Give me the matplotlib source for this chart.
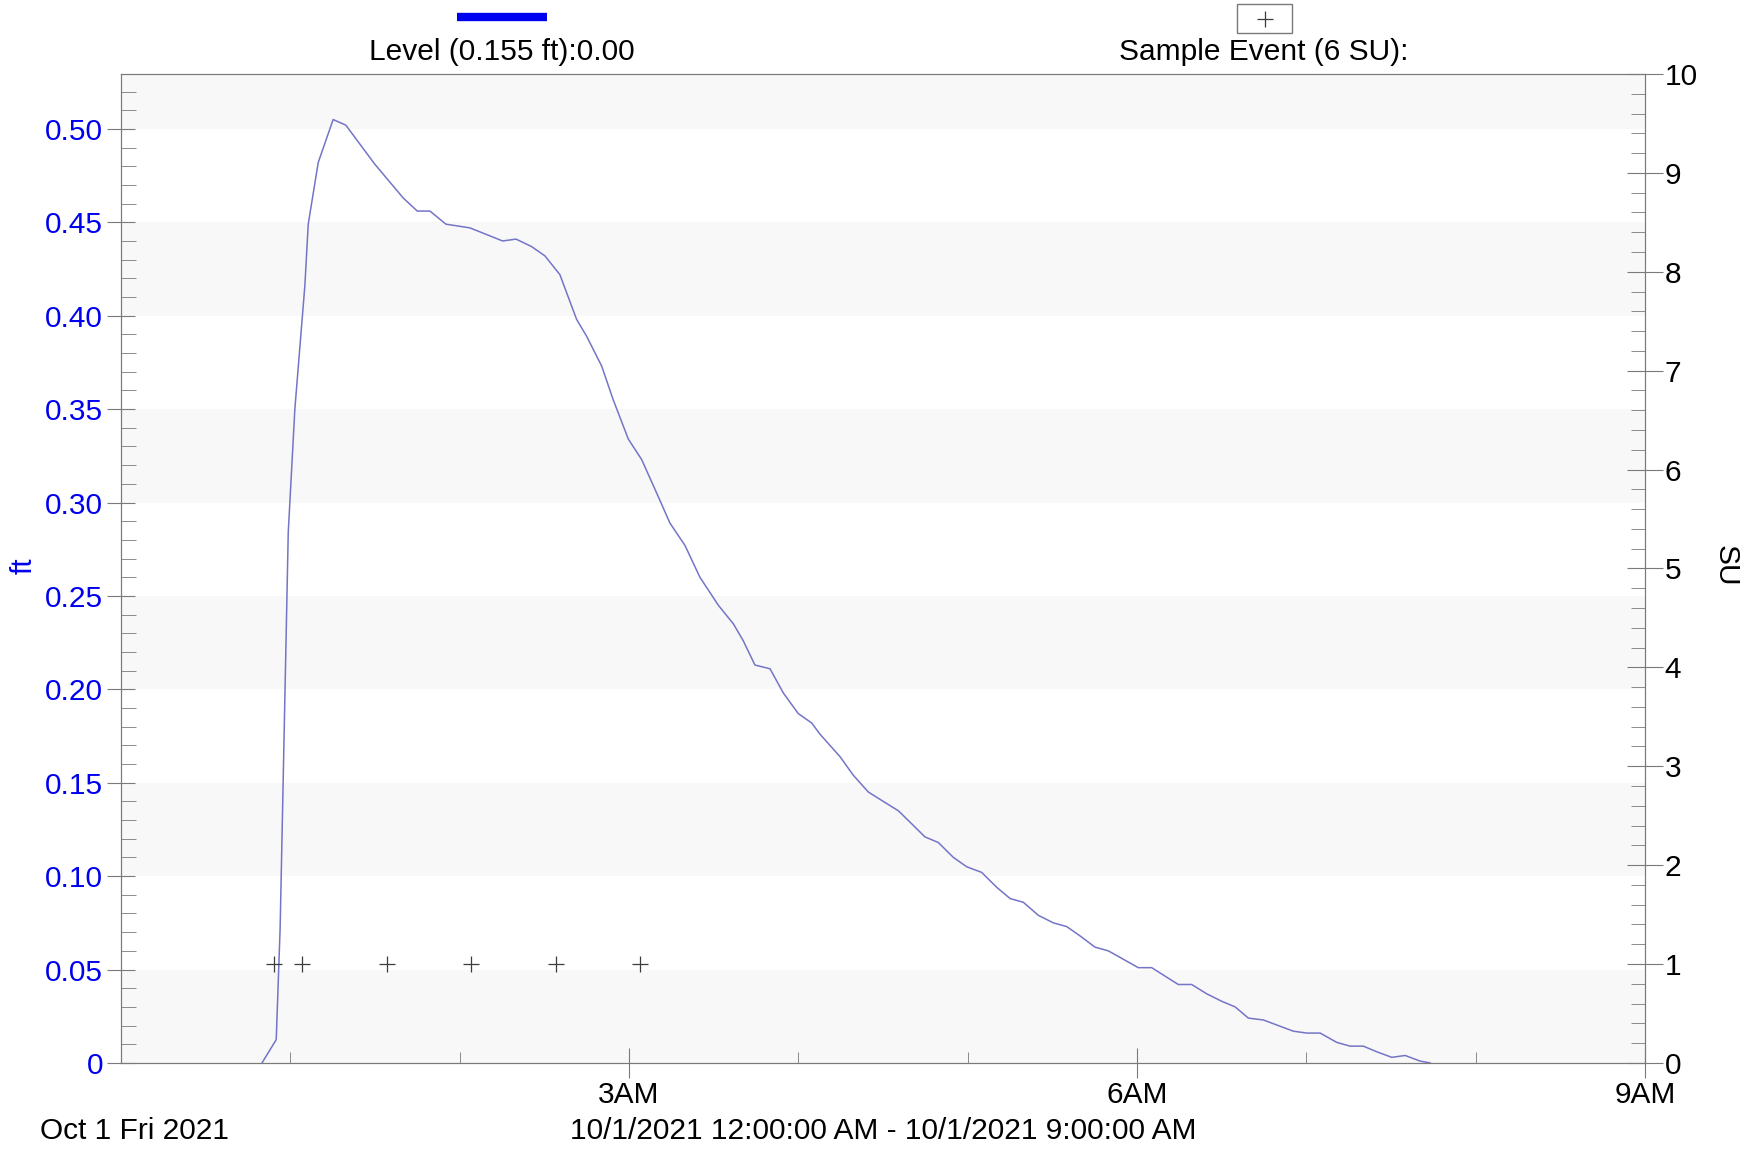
#
########################################################################
# Libraries
########################################################################
#
import matplotlib
matplotlib.use("Agg")
import matplotlib.pyplot as plt
from matplotlib.lines import Line2D
from matplotlib.patches import Rectangle
from matplotlib.ticker import MultipleLocator, FixedLocator

#
########################################################################
# Data (hours after 12:00 AM, 10/1/2021)
########################################################################
#
Horas = [0.833, 0.917, 0.940, 0.958, 0.988, 1.027, 1.086, 1.106, 1.165, 1.253,
         1.328, 1.500, 1.667, 1.750, 1.825, 1.919, 2.061, 2.254, 2.333, 2.425,
         2.504, 2.592, 2.691, 2.750, 2.839, 2.907, 2.996, 3.075, 3.164, 3.242,
         3.331, 3.419, 3.528, 3.617, 3.675, 3.744, 3.833, 3.912, 4.000, 4.079,
         4.128, 4.246, 4.325, 4.414, 4.502, 4.591, 4.670, 4.748, 4.827, 4.916,
         4.995, 5.083, 5.172, 5.251, 5.329, 5.418, 5.506, 5.585, 5.664, 5.752,
         5.831, 5.910, 6.008, 6.087, 6.244, 6.323, 6.412, 6.501, 6.580, 6.658,
         6.747, 6.835, 6.924, 7.003, 7.082, 7.180, 7.259, 7.337, 7.416, 7.505,
         7.584, 7.672, 7.731]
Nivel = [0.000, 0.0125, 0.072, 0.151, 0.284, 0.350, 0.416, 0.449, 0.482, 0.505,
         0.502, 0.481, 0.463, 0.456, 0.456, 0.449, 0.447, 0.440, 0.441, 0.437,
         0.432, 0.422, 0.398, 0.389, 0.373, 0.355, 0.334, 0.323, 0.305, 0.289,
         0.277, 0.260, 0.245, 0.235, 0.226, 0.213, 0.211, 0.198, 0.187, 0.182,
         0.176, 0.164, 0.154, 0.145, 0.140, 0.135, 0.128, 0.121, 0.118, 0.110,
         0.105, 0.102, 0.094, 0.088, 0.086, 0.079, 0.075, 0.073, 0.068, 0.062,
         0.060, 0.056, 0.051, 0.051, 0.042, 0.042, 0.037, 0.033, 0.030, 0.024,
         0.023, 0.020, 0.017, 0.016, 0.016, 0.011, 0.009, 0.009, 0.006, 0.003,
         0.004, 0.001, 0.000]

HorasAmostra = [0.903, 1.070, 1.571, 2.067, 2.569, 3.067]
SUAmostra = [1, 1, 1, 1, 1, 1]

TicksX = [3, 6, 9]
RotulosX = ["3AM", "6AM", "9AM"]
TicksFt = [0.00, 0.05, 0.10, 0.15, 0.20, 0.25, 0.30, 0.35, 0.40, 0.45, 0.50]
RotulosFt = ["0", "0.05", "0.10", "0.15", "0.20", "0.25", "0.30", "0.35",
             "0.40", "0.45", "0.50"]

#
########################################################################
# Settings
########################################################################
#
plt.rcParams["font.family"] = ["Liberation Sans", "DejaVu Sans"]
CorSpine = "#7a7a7a"
CorLinha = "#7474c8"
CorAzul = "#0000f0"
TamFonte = 21.5
FtMax = 0.5294

#
########################################################################
# Figure
########################################################################
#
Grafico = plt.figure(figsize=(17.58, 11.52), dpi=100)
ax = Grafico.add_axes([0.0688, 0.0773, 0.8669, 0.8585])
ax2 = ax.twinx()

# alternating bands
for i, y0 in enumerate(TicksFt):
    if i % 2 == 0:
        ax.axhspan(y0, min(y0 + 0.05, FtMax), color="#f8f8f8", lw=0, zorder=0)

ax.plot(Horas, Nivel, color=CorLinha, lw=1.1, zorder=3)
ax2.plot(HorasAmostra, SUAmostra, ls="none", marker="+", ms=11, mew=0.9,
         color="#3c3c3c", zorder=4)

ax.set_xlim(0, 9)
ax.set_ylim(0, FtMax)
ax2.set_ylim(0, 10)

ax.set_xticks(TicksX)
ax.set_xticklabels(RotulosX)
ax.xaxis.set_minor_locator(FixedLocator([1, 2, 4, 5, 7, 8]))
ax.set_yticks(TicksFt)
ax.set_yticklabels(RotulosFt)
ax.yaxis.set_minor_locator(MultipleLocator(0.01))
ax2.yaxis.set_major_locator(MultipleLocator(1))
ax2.yaxis.set_minor_locator(MultipleLocator(0.2))

for s in ax.spines.values():
    s.set_color(CorSpine)
for s in ax2.spines.values():
    s.set_color(CorSpine)

ax.tick_params(axis="x", which="major", direction="inout", length=22,
               color=CorSpine, labelsize=TamFonte, pad=2)
ax.tick_params(axis="x", which="minor", direction="in", length=8,
               color=CorSpine)
ax.tick_params(axis="y", which="major", direction="inout", length=20,
               color=CorSpine, labelsize=TamFonte, labelcolor=CorAzul, pad=3)
ax.tick_params(axis="y", which="minor", direction="in", length=11,
               color=CorSpine)
ax2.tick_params(axis="y", which="major", direction="inout", length=26,
                color=CorSpine, labelsize=TamFonte, pad=1)
ax2.tick_params(axis="y", which="minor", direction="in", length=10,
                color=CorSpine)

Grafico.text(0.0135, 0.5087, "ft", color=CorAzul, fontsize=TamFonte,
             rotation=90, ha="center", va="center")
Grafico.text(0.9815, 0.5087, "SU", color="black", fontsize=TamFonte,
             rotation=270, ha="center", va="center")

#
########################################################################
# Legend and footer
########################################################################
#
Grafico.add_artist(Line2D([0.26, 0.311], [0.9852, 0.9852], color=CorAzul,
                          lw=6, solid_capstyle="butt"))
Grafico.text(0.2855, 0.9545, "Level (0.155 ft):0.00", fontsize=TamFonte,
             ha="center", va="center")
Grafico.add_artist(Rectangle((0.7036, 0.9714), 0.0313, 0.0247, fill=False,
                             ec=CorSpine, lw=1))
Grafico.add_artist(Line2D([0.7193], [0.9837], marker="+", ms=11, mew=0.9,
                          color="#3c3c3c"))
Grafico.text(0.719, 0.9545, "Sample Event (6 SU):", fontsize=TamFonte,
             ha="center", va="center")

Grafico.text(0.0228, 0.018, "Oct 1 Fri 2021", fontsize=TamFonte,
             ha="left", va="center")
Grafico.text(0.5023, 0.018, "10/1/2021 12:00:00 AM - 10/1/2021 9:00:00 AM",
             fontsize=TamFonte, ha="center", va="center")

Grafico.savefig("out.png", dpi=100)

########################################################################
# END
########################################################################
